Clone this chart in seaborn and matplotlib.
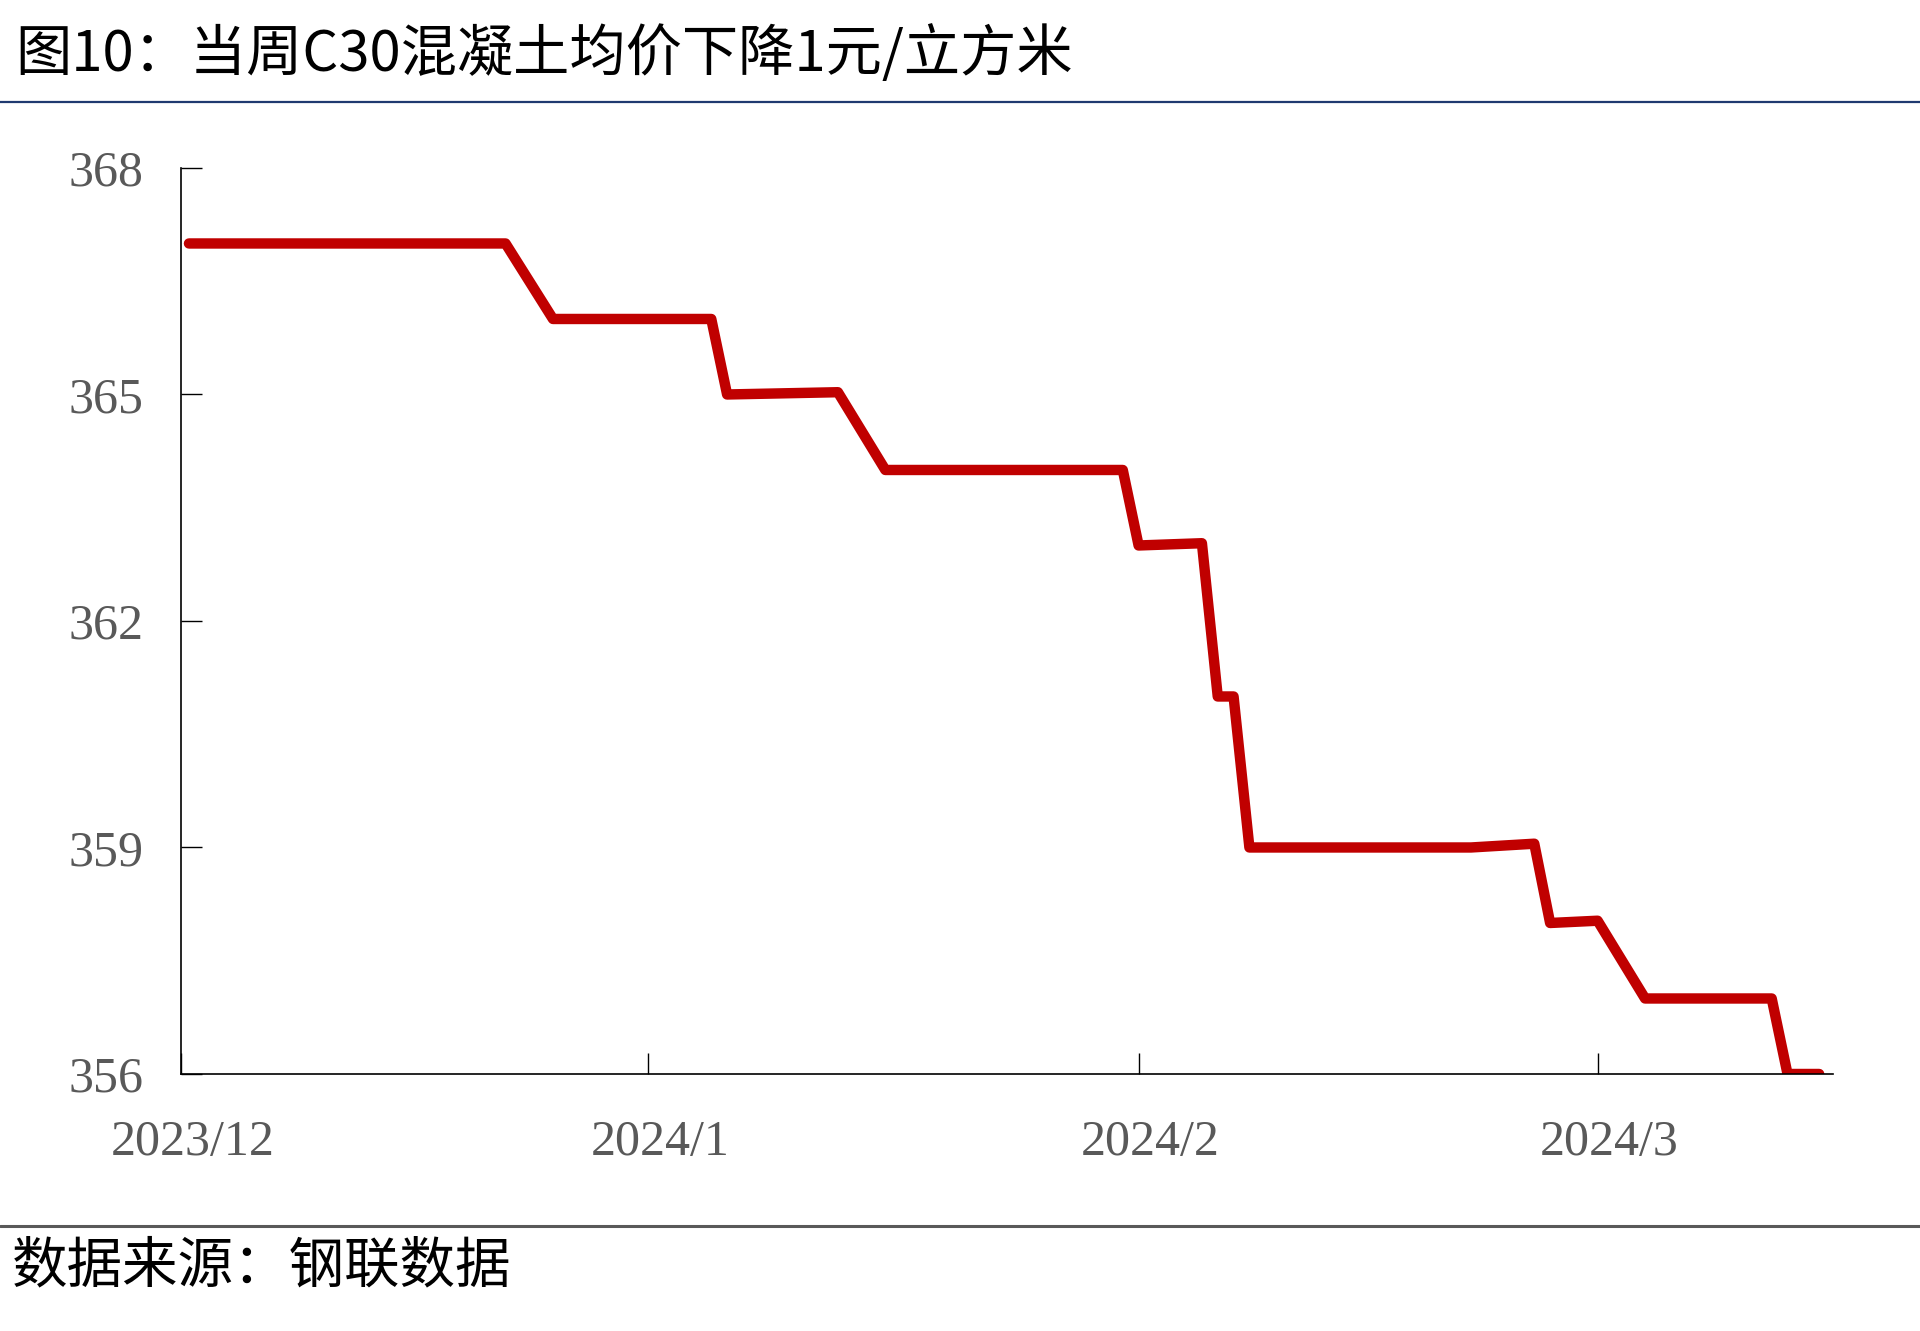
import numpy as np
import pandas as pd
import matplotlib
matplotlib.use("Agg")
import matplotlib.pyplot as plt
import matplotlib.transforms as mtransforms
import seaborn as sns
from matplotlib.lines import Line2D

# values (C30 concrete average price, yuan / m3)
dates = ["2023-12-03", "2023-12-23", "2023-12-26", "2024-01-05", "2024-01-06",
         "2024-01-13", "2024-01-16", "2024-01-31", "2024-02-01", "2024-02-05",
         "2024-02-06", "2024-02-07", "2024-02-08", "2024-02-22", "2024-02-26",
         "2024-02-27", "2024-03-01", "2024-03-04", "2024-03-12", "2024-03-13",
         "2024-03-15"]
prices = [367, 367, 366, 366, 365,
          365.03, 364, 364, 363, 363.03,
          361, 361, 359, 359, 359.05,
          358, 358.03, 357, 357, 356,
          356]
month_ticks = ["2023-12-02 12:00", "2024-01-01 00:00", "2024-02-01 00:00", "2024-03-01 00:00"]
month_labels = ["2023/12", "2024/1", "2024/2", "2024/3"]
y_ticks = [356, 359, 362, 365, 368]

title = "图10：当周C30混凝土均价下降1元/立方米"
source = "数据来源：钢联数据"

df = pd.DataFrame({"date": pd.to_datetime(dates), "price": prices})

sns.set_style("white")
plt.rcParams["font.family"] = ["Noto Sans CJK SC", "DejaVu Sans"]

fig = plt.figure(figsize=(19.2, 13.31), dpi=100)
ax = fig.add_axes([0.0943, 0.1931, 0.8604, 0.6807])

sns.lineplot(data=df, x="date", y="price", ax=ax, color="#C00000",
             linewidth=7.5, solid_joinstyle="round", solid_capstyle="round")

ax.set_ylim(356, 368)
ax.set_xlim(pd.Timestamp("2023-12-02 12:00"), pd.Timestamp("2024-03-15 21:00"))
ax.set_yticks(y_ticks)
ax.set_xticks(pd.to_datetime(month_ticks, format="%Y-%m-%d %H:%M"))
ax.set_xticklabels(month_labels)
ax.set_xlabel("")
ax.set_ylabel("")

for s in ["top", "right"]:
    ax.spines[s].set_visible(False)
for s in ["left", "bottom"]:
    ax.spines[s].set_color("black")
    ax.spines[s].set_linewidth(1.2)

ax.tick_params(axis="both", direction="in", length=15, width=1, color="black",
               labelcolor="#595959", labelsize=36, bottom=True, left=True)
ax.tick_params(axis="y", pad=27)
ax.tick_params(axis="x", pad=33)
shift = mtransforms.ScaledTranslation(12 / 100, 0, fig.dpi_scale_trans)
for lab in ax.get_xticklabels():
    lab.set_fontfamily("Liberation Serif")
    lab.set_transform(lab.get_transform() + shift)
for lab in ax.get_yticklabels():
    lab.set_fontfamily("Liberation Serif")

fig.text(15 / 1920, 1 - 55 / 1331, title, fontsize=40.5, va="center", ha="left",
         color="black")
fig.add_artist(Line2D([0, 1], [1 - 102 / 1331] * 2, color="#1F3A70", lw=1.6))
fig.add_artist(Line2D([0, 1], [1 - 1226 / 1331] * 2, color="#595959", lw=2.2))
fig.text(12 / 1920, 1 - 1267 / 1331, source, fontsize=40, va="center", ha="left",
         color="black")

fig.savefig("out.png", dpi=100)
